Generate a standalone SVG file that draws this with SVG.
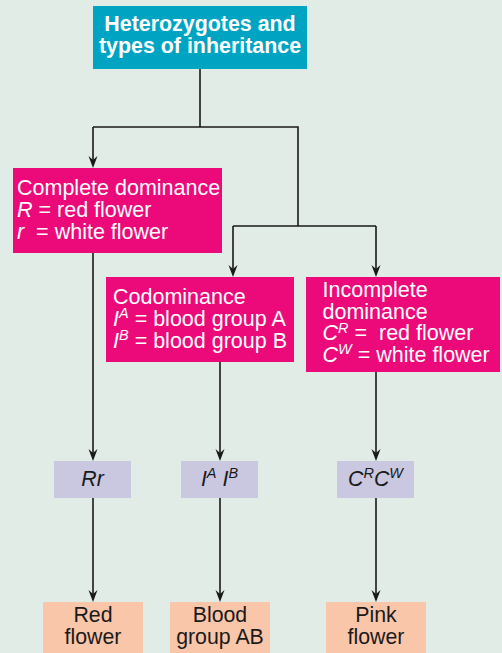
<svg xmlns="http://www.w3.org/2000/svg" width="502" height="653" viewBox="0 0 502 653">
<defs>
<style>
.t{font-family:"Liberation Sans",Arial,Helvetica,sans-serif;}
.title{font-size:21.4px;font-weight:bold;fill:#ffffff;}
.mg{font-size:21.5px;fill:#ffffff;}
.dk{font-size:21.3px;fill:#1a1a1a;}
.sup{font-size:14.5px;font-style:italic;}
.conn{stroke:#1a1a1a;stroke-width:1.6;fill:none;}
.ah{fill:#1a1a1a;}
</style>
</defs>
<rect x="0" y="0" width="502" height="653" fill="#e1ece7"/>
<g id="connectors">
<path class="conn" d="M200,69 V127"/>
<path class="conn" d="M93,127 H298 V226"/>
<path class="conn" d="M93,127 V160"/>
<path class="conn" d="M233,226 H376"/>
<path class="conn" d="M93,253 V453"/>
<path class="conn" d="M220,362 V453"/>
<path class="conn" d="M376,372 V453"/>
<path class="conn" d="M93,498 V594"/>
<path class="conn" d="M220,498 V594"/>
<path class="conn" d="M376,498 V594"/>
<path class="conn" d="M233,226 V269"/>
<path class="conn" d="M376,226 V269"/>
<path class="ah" d="M88.5,156 L93,160 L97.5,156 L93,168 Z"/>
<path class="ah" d="M228.5,265 L233,269 L237.5,265 L233,277 Z"/>
<path class="ah" d="M371.5,265 L376,269 L380.5,265 L376,277 Z"/>
<path class="ah" d="M88.5,449 L93,453 L97.5,449 L93,461 Z"/>
<path class="ah" d="M215.5,449 L220,453 L224.5,449 L220,461 Z"/>
<path class="ah" d="M371.5,449 L376,453 L380.5,449 L376,461 Z"/>
<path class="ah" d="M88.5,590 L93,594 L97.5,590 L93,602 Z"/>
<path class="ah" d="M215.5,590 L220,594 L224.5,590 L220,602 Z"/>
<path class="ah" d="M371.5,590 L376,594 L380.5,590 L376,602 Z"/>
</g>
<g id="title">
<rect x="93" y="6" width="214" height="63" fill="#00a4c3"/>
<text class="t title" x="200" y="31" text-anchor="middle">Heterozygotes and</text>
<text class="t title" x="200" y="52.5" text-anchor="middle">types of inheritance</text>
</g>
<g id="complete">
<rect x="13" y="168" width="209" height="85" fill="#ec0a7b"/>
<text class="t mg" x="17" y="195">Complete dominance</text>
<text class="t mg" x="17" y="217"><tspan font-style="italic">R</tspan> = red flower</text>
<text class="t mg" x="17" y="239" xml:space="preserve"><tspan font-style="italic">r</tspan>  = white flower</text>
</g>
<g id="codominance">
<rect x="106" y="277" width="188" height="85" fill="#ec0a7b"/>
<text class="t mg" x="113" y="303.5">Codominance</text>
<text class="t mg" x="113" y="325.5"><tspan font-style="italic">I</tspan><tspan class="sup" dy="-7.5">A</tspan><tspan dy="7.5"> = blood group A</tspan></text>
<text class="t mg" x="113" y="347.5"><tspan font-style="italic">I</tspan><tspan class="sup" dy="-7.5">B</tspan><tspan dy="7.5"> = blood group B</tspan></text>
</g>
<g id="incomplete">
<rect x="306" y="277" width="194" height="95" fill="#ec0a7b"/>
<text class="t mg" x="322.5" y="297">Incomplete</text>
<text class="t mg" x="322.5" y="318.5">dominance</text>
<text class="t mg" x="322.5" y="340" xml:space="preserve"><tspan font-style="italic">C</tspan><tspan class="sup" dy="-7.5">R</tspan><tspan dy="7.5"> =  red flower</tspan></text>
<text class="t mg" x="322.5" y="361.5"><tspan font-style="italic">C</tspan><tspan class="sup" dy="-7.5">W</tspan><tspan dy="7.5"> = white flower</tspan></text>
</g>
<g id="rr">
<rect x="54" y="461" width="77" height="37" fill="#cac8e0"/>
<text class="t dk" x="92.5" y="485.5" text-anchor="middle" font-style="italic">Rr</text>
</g>
<g id="iaib">
<rect x="181" y="461" width="77" height="37" fill="#cac8e0"/>
<text class="t dk" x="219.5" y="485.5" text-anchor="middle" font-style="italic">I<tspan class="sup" dy="-7.5">A</tspan><tspan dy="7.5"> I</tspan><tspan class="sup" dy="-7.5">B</tspan></text>
</g>
<g id="crcw">
<rect x="337" y="461" width="77" height="37" fill="#cac8e0"/>
<text class="t dk" x="375.5" y="485.5" text-anchor="middle" font-style="italic">C<tspan class="sup" dy="-7.5">R</tspan><tspan dy="7.5">C</tspan><tspan class="sup" dy="-7.5">W</tspan></text>
</g>
<g id="red">
<rect x="43" y="602" width="100" height="51" fill="#fac6a9"/>
<text class="t dk" x="93" y="622" text-anchor="middle">Red</text>
<text class="t dk" x="93" y="643.5" text-anchor="middle">flower</text>
</g>
<g id="blood">
<rect x="170" y="602" width="100" height="51" fill="#fac6a9"/>
<text class="t dk" x="220" y="622" text-anchor="middle">Blood</text>
<text class="t dk" x="220" y="643.5" text-anchor="middle">group AB</text>
</g>
<g id="pink">
<rect x="326" y="602" width="100" height="51" fill="#fac6a9"/>
<text class="t dk" x="376" y="622" text-anchor="middle">Pink</text>
<text class="t dk" x="376" y="643.5" text-anchor="middle">flower</text>
</g>
</svg>
